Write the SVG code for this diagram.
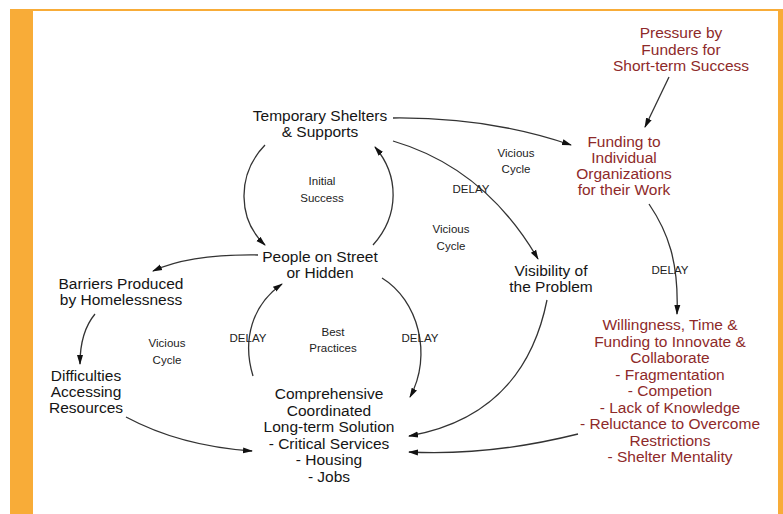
<svg xmlns="http://www.w3.org/2000/svg" width="783" height="514" viewBox="0 0 783 514">
  <style>
    .lbl { font-family: "Liberation Sans", Arial, Helvetica, sans-serif; font-size: 15.5px; fill: #151515; text-anchor: middle; }
    .red { fill: #8e2a2a; }
    .note { font-family: "Liberation Sans", Arial, Helvetica, sans-serif; font-size: 11.5px; fill: #222; text-anchor: middle; }
    .link { fill: none; stroke: #333; stroke-width: 1.3; marker-end: url(#arrow); }
  </style>
  <defs>
    <marker id="arrow" viewBox="0 0 10 10" refX="9" refY="5" markerWidth="10" markerHeight="10" markerUnits="userSpaceOnUse" orient="auto">
      <path d="M0,2 L10,5 L0,8 z" fill="#111"/>
    </marker>
  </defs>

  <!-- page and frame -->
  <rect x="0" y="0" width="783" height="514" fill="#ffffff"/>
  <rect x="10" y="9" width="23" height="505" fill="#f8ac38"/>
  <rect x="10" y="9" width="773" height="2" fill="#f8ac38"/>
  <rect x="778" y="9" width="5" height="505" fill="#f8ac38"/>

  <!-- connectors -->
  <g id="connectors">
    <path class="link" d="M393,118 Q490,117 571,145"/>
    <path class="link" d="M393,141 Q485,168 538,259"/>
    <path class="link" d="M669,77 L645,127"/>
    <path class="link" d="M649,204 C668,232 679,262 677,314"/>
    <path class="link" d="M578,434 Q490,456 409,452"/>
    <path class="link" d="M547,300 C535,360 500,420 409,436"/>
    <path class="link" d="M382,278 C418,300 433,355 410,397"/>
    <path class="link" d="M253,376 C242,340 252,305 282,284"/>
    <path class="link" d="M265,145 C236,175 238,220 265,245"/>
    <path class="link" d="M373,245 C400,215 399,175 375,147"/>
    <path class="link" d="M258,255 Q190,254 153,271"/>
    <path class="link" d="M95,314 Q80,332 80,364"/>
    <path class="link" d="M126,417 Q180,446 252,451"/>
  </g>

  <!-- nodes -->
  <g id="temporary-shelters">
    <text class="lbl" x="320" y="121">Temporary Shelters</text>
    <text class="lbl" x="320" y="137">&amp; Supports</text>
  </g>
  <g id="pressure-by-funders">
    <text class="lbl red" x="681" y="38">Pressure by</text>
    <text class="lbl red" x="681" y="54.5">Funders for</text>
    <text class="lbl red" x="681" y="71">Short-term Success</text>
  </g>
  <g id="funding-to-organizations">
    <text class="lbl red" x="624" y="147">Funding to</text>
    <text class="lbl red" x="624" y="163">Individual</text>
    <text class="lbl red" x="624" y="179">Organizations</text>
    <text class="lbl red" x="624" y="195">for their Work</text>
  </g>
  <g id="people-on-street">
    <text class="lbl" x="320" y="262">People on Street</text>
    <text class="lbl" x="320" y="278">or Hidden</text>
  </g>
  <g id="barriers">
    <text class="lbl" x="121" y="289">Barriers Produced</text>
    <text class="lbl" x="121" y="305">by Homelessness</text>
  </g>
  <g id="difficulties">
    <text class="lbl" x="86" y="381">Difficulties</text>
    <text class="lbl" x="86" y="397">Accessing</text>
    <text class="lbl" x="86" y="413">Resources</text>
  </g>
  <g id="visibility">
    <text class="lbl" x="551" y="276">Visibility of</text>
    <text class="lbl" x="551" y="292">the Problem</text>
  </g>
  <g id="comprehensive-solution">
    <text class="lbl" x="329" y="399">Comprehensive</text>
    <text class="lbl" x="329" y="415.5">Coordinated</text>
    <text class="lbl" x="329" y="432">Long-term Solution</text>
    <text class="lbl" x="329" y="448.5">- Critical Services</text>
    <text class="lbl" x="329" y="465">- Housing</text>
    <text class="lbl" x="329" y="481.5">- Jobs</text>
  </g>
  <g id="willingness">
    <text class="lbl red" x="670" y="330">Willingness, Time &amp;</text>
    <text class="lbl red" x="670" y="346.5">Funding to Innovate &amp;</text>
    <text class="lbl red" x="670" y="363">Collaborate</text>
    <text class="lbl red" x="670" y="379.5">- Fragmentation</text>
    <text class="lbl red" x="670" y="396">- Competion</text>
    <text class="lbl red" x="670" y="412.5">- Lack of Knowledge</text>
    <text class="lbl red" x="670" y="429">- Reluctance to Overcome</text>
    <text class="lbl red" x="670" y="445.5">Restrictions</text>
    <text class="lbl red" x="670" y="462">- Shelter Mentality</text>
  </g>

  <!-- loop and delay labels -->
  <g id="loop-labels">
    <text class="note" x="322" y="185">Initial</text>
    <text class="note" x="322" y="202">Success</text>
    <text class="note" x="516" y="157">Vicious</text>
    <text class="note" x="516" y="173">Cycle</text>
    <text class="note" x="471" y="193">DELAY</text>
    <text class="note" x="451" y="233">Vicious</text>
    <text class="note" x="451" y="250">Cycle</text>
    <text class="note" x="167" y="347">Vicious</text>
    <text class="note" x="167" y="364">Cycle</text>
    <text class="note" x="248" y="342">DELAY</text>
    <text class="note" x="333" y="336">Best</text>
    <text class="note" x="333" y="352">Practices</text>
    <text class="note" x="420" y="342">DELAY</text>
    <text class="note" x="670" y="274">DELAY</text>
  </g>
</svg>
